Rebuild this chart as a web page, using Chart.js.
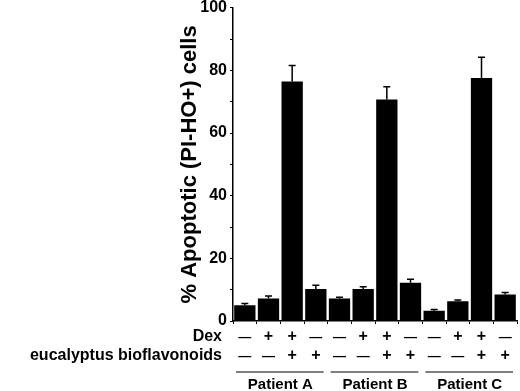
<!DOCTYPE html>
<html>
<head>
<meta charset="utf-8">
<script src="https://cdn.jsdelivr.net/npm/chart.js@4"></script>
<style>
  html, body { margin: 0; padding: 0; background: #fff; }
  #wrap { width: 520px; height: 391px; }
</style>
</head>
<body>
<div id="wrap"><canvas id="apoptosisChart" width="520" height="391"></canvas></div>
<script>
const categories = ["A1", "A2", "A3", "A4", "B1", "B2", "B3", "B4", "C1", "C2", "C3", "C4"];
const patients = ["Patient A", "Patient B", "Patient C"];
const dexRow = ["-", "+", "+", "-", "-", "+", "+", "-", "-", "+", "+", "-"];
const bioRow = ["-", "-", "+", "+", "-", "-", "+", "+", "-", "-", "+", "+"];
const apoptoticValues = [5.0, 7.2, 76.5, 10.2, 7.2, 10.2, 70.7, 12.2, 3.3, 6.3, 77.6, 8.5];
const errorValues = [0.6, 0.8, 5.1, 1.2, 0.4, 0.7, 4.1, 1.1, 0.4, 0.4, 6.6, 0.6];
const yTicks = [0, 20, 40, 60, 80, 100];

const fontFamily = "'Liberation Sans', Arial, Helvetica, sans-serif";

const annotations = {
    id: "annotations",
    afterDatasetsDraw(chart) {
        const ctx = chart.ctx;
        const x = chart.scales.x;
        const y = chart.scales.y;

        // error bars (upper only)
        ctx.save();
        ctx.strokeStyle = "#000";
        ctx.lineWidth = 1.5;
        apoptoticValues.forEach((v, i) => {
            const cx = x.getPixelForValue(i);
            const yTop = y.getPixelForValue(v + errorValues[i]);
            const yBar = y.getPixelForValue(v);
            ctx.beginPath();
            ctx.moveTo(cx, yBar);
            ctx.lineTo(cx, yTop);
            ctx.moveTo(cx - 3.5, yTop);
            ctx.lineTo(cx + 3.5, yTop);
            ctx.stroke();
        });
        ctx.restore();
    },
    afterDraw(chart) {
        const ctx = chart.ctx;
        const x = chart.scales.x;
        const dexY = 337;
        const bioY = 356;

        ctx.save();
        ctx.fillStyle = "#000";
        ctx.textBaseline = "middle";
        ctx.textAlign = "right";
        ctx.font = "bold 16px " + fontFamily;
        ctx.fillText("Dex", 222, dexY);
        ctx.fillText("eucalyptus bioflavonoids", 222, bioY);

        ctx.textAlign = "center";
        const drawSign = (s, cx, cy) => {
            if (s === "+") {
                ctx.font = "bold 16px " + fontFamily;
                ctx.fillText("+", cx, cy);
            } else {
                ctx.font = "bold 13px " + fontFamily;
                ctx.fillText("\u2014", cx, cy);
            }
        };
        categories.forEach((c, i) => {
            const cx = x.getPixelForValue(i);
            drawSign(dexRow[i], cx, dexY);
            drawSign(bioRow[i], cx, bioY);
        });

        // patient group underlines and labels
        ctx.strokeStyle = "#000";
        ctx.lineWidth = 1.2;
        ctx.font = "bold 15px " + fontFamily;
        patients.forEach((p, g) => {
            const left = x.getPixelForValue(g * 4) - x.width / 24;
            const right = x.getPixelForValue(g * 4 + 3) + x.width / 24;
            ctx.beginPath();
            ctx.moveTo(left + 3, 372);
            ctx.lineTo(right - 4, 372);
            ctx.stroke();
            ctx.fillText(p, (left + right) / 2, 385);
        });
        ctx.restore();
    }
};

new Chart(document.getElementById("apoptosisChart").getContext("2d"), {
    type: "bar",
    data: {
        labels: categories,
        datasets: [{
            data: apoptoticValues,
            backgroundColor: "#000",
            borderWidth: 0,
            barPercentage: 0.9,
            categoryPercentage: 1.0
        }]
    },
    options: {
        responsive: false,
        animation: false,
        layout: { padding: { left: 0, right: 3, top: 1, bottom: 0 } },
        plugins: {
            legend: { display: false },
            tooltip: { enabled: false }
        },
        scales: {
            x: {
                offset: true,
                afterFit: (scale) => { scale.height = 70; },
                grid: {
                    offset: true,
                    drawOnChartArea: false,
                    drawTicks: true,
                    tickLength: 3,
                    tickColor: "#000",
                    tickWidth: 1
                },
                border: { color: "#000", width: 1.5 },
                ticks: { display: false }
            },
            y: {
                min: 0,
                max: 100,
                afterFit: (scale) => { scale.width = 233; },
                grid: {
                    drawOnChartArea: false,
                    tickLength: 3,
                    tickColor: "#000",
                    tickWidth: 1
                },
                border: { color: "#000", width: 1.5 },
                ticks: {
                    stepSize: 10,
                    padding: 3,
                    color: "#000",
                    font: { family: fontFamily, size: 16, weight: "bold", lineHeight: 0.6 },
                    callback: (v) => yTicks.includes(v) ? v : ""
                },
                title: {
                    display: true,
                    text: "% Apoptotic (PI-HO+) cells",
                    color: "#000",
                    font: { family: fontFamily, size: 22, weight: "bold", lineHeight: 1.2 },
                    padding: { top: 177, bottom: 0 }
                }
            }
        }
    },
    plugins: [annotations]
});
</script>
</body>
</html>
